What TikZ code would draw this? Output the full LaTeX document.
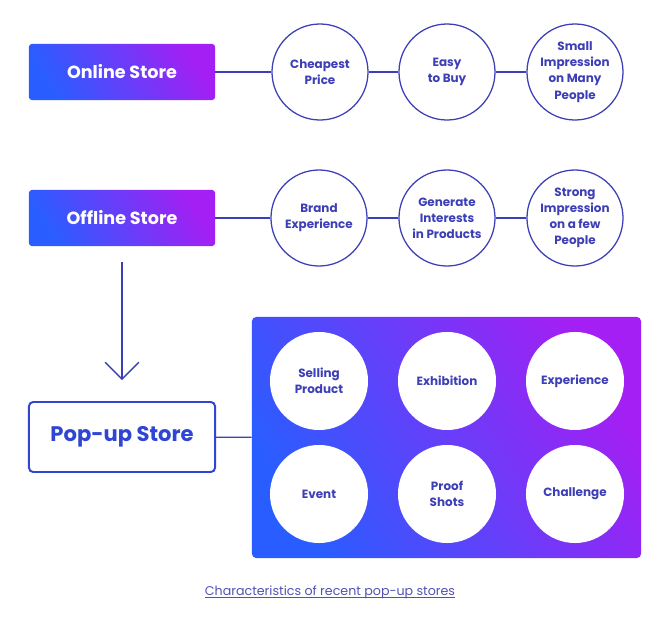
\documentclass[tikz,border=0pt]{standalone}
\usepackage{fontspec}
\setmainfont{Poppins}
\usetikzlibrary{positioning, arrows.meta}

\definecolor{inkblue}{HTML}{3C3FB5}
\definecolor{popblue}{HTML}{3045D4}
\definecolor{gradblue}{HTML}{2A5DFF}
\definecolor{gradpurple}{HTML}{A41FF3}
\definecolor{captionblue}{HTML}{5052B4}

\tikzset{
  storebox/.style={rounded corners=2pt, minimum width=4.65cm, minimum height=1.4cm,
    left color=gradblue, right color=gradpurple, shading angle=120,
    text=white, font=\bfseries\fontsize{12.5}{14}\selectfont},
  trait/.style={circle, draw=inkblue, line width=0.9pt, fill=white, minimum size=2.4cm,
    inner sep=0pt, align=center, text=inkblue, font=\bfseries\fontsize{8.5}{11.5}\selectfont},
  kind/.style={circle, fill=white, minimum size=2.45cm, inner sep=0pt, align=center,
    text=inkblue, font=\bfseries\fontsize{8.5}{11.5}\selectfont},
  link/.style={draw=inkblue, line width=0.9pt}
}

\begin{document}
\begin{tikzpicture}[x=0.025cm, y=-0.025cm]
\useasboundingbox (0,0) rectangle (660,639);

% Online store row
\node[storebox] (online) at (122,72) {Online Store};
\node[trait] (cheap) at (320,72) {Cheapest\\Price};
\node[trait] (easy) at (447,72) {Easy\\to Buy};
\node[trait] (small) at (575,72) {Small\\Impression\\on Many\\People};
\draw[link] (online) -- (cheap) -- (easy) -- (small);

% Offline store row
\node[storebox] (offline) at (122,218) {Offline Store};
\node[trait] (brand) at (319,218) {Brand\\Experience};
\node[trait] (interest) at (447,218) {Generate\\Interests\\in Products};
\node[trait] (strong) at (575,218) {Strong\\Impression\\on a few\\People};
\draw[link] (offline) -- (brand) -- (interest) -- (strong);

% Arrow down to the pop-up store
\coordinate (arrowtop) at (122,262);
\coordinate (arrowtip) at (122,380);
\draw[link, -{Straight Barb[length=12pt, width=24pt]}] (arrowtop) -- (arrowtip);

% Pop-up store and its kinds
\node[draw=popblue, line width=1.4pt, fill=white, rounded corners=3pt,
  minimum width=4.65cm, minimum height=1.75cm, text=popblue,
  font=\bfseries\fontsize{15}{18}\selectfont] (popup) at (122,437) {Pop-up Store};
\node[rounded corners=3pt, minimum width=9.725cm, minimum height=6.025cm,
  left color=gradblue, right color=gradpurple, shading angle=120] (showcase) at (446.5,437.5) {};
\draw[link] (popup) -- (showcase);

\node[kind] (selling) at (319,381) {Selling\\Product};
\node[kind] (exhibit) at (447,381) {Exhibition};
\node[kind] (experience) at (575,381) {Experience};
\node[kind] (event) at (319,494) {Event};
\node[kind] (proof) at (447,494) {Proof\\Shots};
\node[kind] (challenge) at (575,494) {Challenge};

% Caption
\node[inner sep=0pt, text=captionblue, font=\fontsize{9}{11}\selectfont] (caption) at (330,592)
  {Characteristics of recent pop-up stores};
\draw[captionblue, line width=0.5pt] ([yshift=-1.2pt]caption.base west) -- ([yshift=-1.2pt]caption.base east);
\end{tikzpicture}
\end{document}
